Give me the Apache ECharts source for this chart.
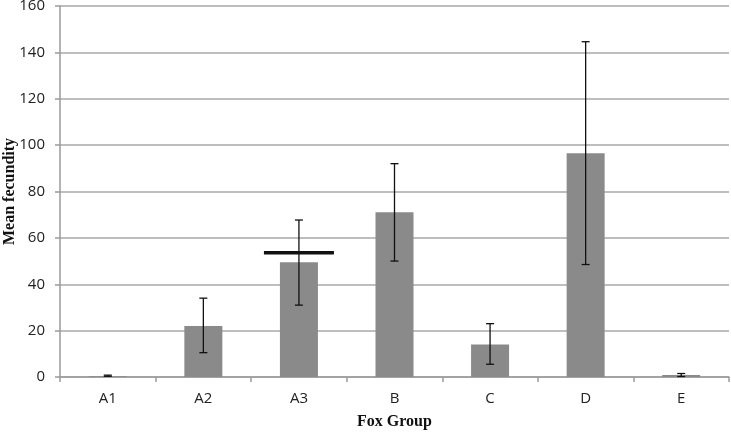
<!DOCTYPE html>
<html>
<head>
<meta charset="utf-8">
<script src="https://cdn.jsdelivr.net/npm/echarts@6/dist/echarts.min.js"></script>
<style>html,body{margin:0;padding:0;background:#fff}#c{width:731px;height:432px}</style>
</head>
<body>
<div id="c"></div>
<script>
var categories = ['A1', 'A2', 'A3', 'B', 'C', 'D', 'E'];
var meanValues = [0.3, 22, 49.5, 71, 14, 96.5, 0.9];
var errLow = [0.3, 10.5, 31, 50, 5.5, 48.5, 0.2];
var errHigh = [0.8, 34, 67.7, 92, 23, 144.6, 1.5];
var refCategory = 'A3';
var refValue = 53.6;
var yTicks = [0, 20, 40, 60, 80, 100, 120, 140, 160];

var chart = echarts.init(document.getElementById('c'));
var errData = categories.map(function (c, i) { return [i, errLow[i], errHigh[i]]; });

chart.setOption({
  animation: false,
  backgroundColor: '#ffffff',
  grid: { left: 60, right: 2, top: 6, bottom: 55, containLabel: false, outerBoundsMode: 'none' },
  xAxis: {
    type: 'category',
    data: categories,
    name: 'Fox Group',
    nameLocation: 'middle',
    nameGap: 37,
    nameMoveOverlap: false,
    nameTextStyle: { fontFamily: 'Liberation Serif', fontWeight: 'bold', fontSize: 16, color: '#111' },
    axisLine: { lineStyle: { color: '#9a9a9a', width: 1.5 } },
    axisTick: { show: true, length: 5, lineStyle: { color: '#9a9a9a', width: 1.5 } },
    axisLabel: { fontFamily: 'Open Sans', fontSize: 15, color: '#222', margin: 14 }
  },
  yAxis: {
    type: 'value',
    min: yTicks[0],
    max: yTicks[yTicks.length - 1],
    interval: yTicks[1] - yTicks[0],
    name: 'Mean fecundity',
    nameLocation: 'middle',
    nameGap: 42,
    nameMoveOverlap: false,
    nameTextStyle: { fontFamily: 'Liberation Serif', fontWeight: 'bold', fontSize: 16, color: '#111' },
    axisLine: { show: true, lineStyle: { color: '#9a9a9a', width: 1.5 } },
    axisTick: { show: true, length: 5, lineStyle: { color: '#9a9a9a', width: 1.5 } },
    axisLabel: { fontFamily: 'Open Sans', fontSize: 15, color: '#222', margin: 15 },
    splitLine: { lineStyle: { color: '#a8a8a8', width: 1.5 } }
  },
  series: [
    {
      type: 'bar',
      data: meanValues,
      barWidth: 38,
      itemStyle: { color: '#8a8a8a' }
    },
    {
      type: 'custom',
      data: errData,
      z: 10,
      renderItem: function (params, api) {
        var x = api.value(0);
        var lo = api.coord([x, api.value(1)]);
        var hi = api.coord([x, api.value(2)]);
        var hw = 4;
        var st = { stroke: '#111', lineWidth: 1.3 };
        return {
          type: 'group',
          children: [
            { type: 'line', shape: { x1: lo[0], y1: lo[1], x2: hi[0], y2: hi[1] }, style: st },
            { type: 'line', shape: { x1: lo[0] - hw, y1: lo[1], x2: lo[0] + hw, y2: lo[1] }, style: st },
            { type: 'line', shape: { x1: hi[0] - hw, y1: hi[1], x2: hi[0] + hw, y2: hi[1] }, style: st }
          ]
        };
      }
    },
    {
      type: 'custom',
      data: [[categories.indexOf(refCategory), refValue]],
      z: 11,
      renderItem: function (params, api) {
        var p = api.coord([api.value(0), api.value(1)]);
        return {
          type: 'line',
          shape: { x1: p[0] - 35, y1: p[1], x2: p[0] + 35, y2: p[1] },
          style: { stroke: '#111', lineWidth: 3.5 }
        };
      }
    }
  ]
});
</script>
</body>
</html>
